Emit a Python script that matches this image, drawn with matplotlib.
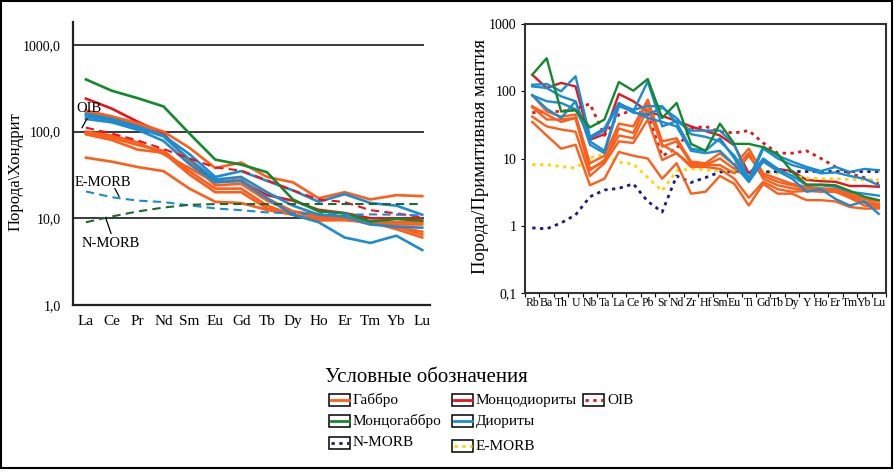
import numpy as np
import matplotlib
matplotlib.use('Agg')
import matplotlib.pyplot as plt
from matplotlib.patches import Rectangle
from matplotlib.lines import Line2D

plt.rcParams['font.family'] = ['Liberation Serif', 'DejaVu Serif']

# ---- left: REE, chondrite normalized ----
ree = ['La', 'Ce', 'Pr', 'Nd', 'Sm', 'Eu', 'Gd', 'Tb', 'Dy', 'Ho', 'Er', 'Tm', 'Yb', 'Lu']

gabbro_ree = [
    [175, 150, 125, 100, 65, 38, 44, 30, 26, 17, 20, 16.5, 18.5, 18],
    [170, 145, 120, 90, 45, 24, 25, 16, 12, 10.5, 10.5, 9, 8, 6.5],
    [97, 85, 70, 60, 35, 22, 22, 14, 11, 10, 10, 9, 7.5, 6],
    [93, 80, 62, 57, 32, 20, 20, 13, 11, 9.5, 9.7, 9, 9, 9],
    [50, 45, 39, 35, 22, 15.5, 15, 12.5, 11, 9.5, 9.5, 9, 8, 7],
    [100, 90, 75, 55, 38, 26, 28, 17, 12, 11, 10, 8.5, 8.5, 8.5],
]
diorite_ree = [
    [160, 140, 115, 90, 55, 30, 35, 27, 21, 15.5, 19, 15, 14, 11],
    [140, 128, 105, 78, 42, 26, 27, 17, 11, 9, 6, 5.2, 6.3, 4.3],
    [150, 135, 110, 88, 48, 28, 30, 20, 14, 11, 10.5, 8.5, 8, 7.8],
]
monzodiorite_ree = [240, 184, 130, 95, 45, 27, 27, 18.5, 16, 12.5, 11.5, 10, 10, 10]
monzogabbro_ree = [400, 296, 243, 195, 95, 47.5, 41.6, 34, 16.5, 12, 11.4, 9.2, 9.8, 9.4]
oib_ree = [111, 95, 79, 63, 49, 38.6, 35.5, 27.5, 21, 16.5, 15.4, 12.4, 11.4, 10.3]
emorb_ree = [20.4, 17.5, 16, 15.4, 14.1, 13, 12.4, 11.7, 11.4, 11.2, 11, 11.1, 11, 10.8]
nmorb_ree = [9, 10.5, 12, 13.3, 14.3, 14.6, 14.6, 14.6, 14.6, 14.6, 14.6, 14.6, 14.6, 14.6]

# ---- right: spider diagram, primitive mantle normalized ----
spider = ['Rb', 'Ba', 'Th', 'U', 'Nb', 'Ta', 'La', 'Ce', 'Pb', 'Sr', 'Nd', 'Zr', 'Hf',
          'Sm', 'Eu', 'Ti', 'Gd', 'Tb', 'Dy', 'Y', 'Ho', 'Er', 'Tm', 'Yb', 'Lu']

gabbro_pm = [
    [88, 50, 42, 45, 8.5, 11, 33, 30, 75, 18, 20, 9, 8.5, 12, 8, 14, 6, 5, 4.2, 3.8, 3.6, 3.5, 3, 2.5, 2.3],
    [58, 38, 38, 40, 6.7, 9.5, 22, 20, 55, 16, 12, 8, 8, 8, 6, 11, 5.5, 4.5, 4, 3.6, 3.4, 3.3, 2.8, 2.3, 2.1],
    [42, 30, 27, 25, 5.5, 8.5, 18, 17, 38, 9.5, 12, 7.5, 7.5, 7, 5, 2.6, 4.5, 3.5, 3.2, 3.3, 3.2, 3.2, 2.6, 2.0, 1.9],
    [35, 22, 14, 16, 4, 5, 12.5, 11, 10, 5, 8.5, 3, 3.2, 5.5, 4.2, 2, 4.2, 3, 3, 2.4, 2.4, 2.3, 1.9, 1.8, 1.8],
    [60, 45, 35, 40, 7, 9, 28, 24, 70, 15, 18, 8.5, 8, 10, 7, 12, 5, 4, 3.6, 3.4, 3.3, 3.2, 2.7, 2.2, 2.0],
]
diorite_pm = [
    [125, 128, 100, 167, 21, 28, 67, 50, 140, 30, 36, 26, 26, 26, 16, 5, 15, 11, 9, 7.5, 6.5, 7.5, 6.3, 7, 6.7],
    [118, 112, 84, 71, 18, 13, 65, 53, 60, 60, 34, 14, 13, 20, 10, 4.5, 14, 10, 8, 7, 6, 6.2, 5.5, 5, 4],
    [87, 71, 67, 54, 20, 26, 64, 48, 45, 57, 40, 23, 21, 18, 11, 5, 10, 7, 5.5, 4, 4, 3.8, 3.2, 3, 2.8],
    [87, 55, 40, 71, 16, 12, 60, 50, 40, 35, 30, 13, 12, 13, 8, 4.5, 9, 6.5, 5, 3.2, 3.5, 2.5, 2, 2.3, 1.5],
]
monzodiorite_pm = [176, 112, 133, 118, 19, 23, 91, 71, 50, 43, 36, 30, 25.6, 22, 15.6, 6, 9.5, 7, 6.5,
                   4.8, 4.6, 4.5, 3.9, 3.9, 3.8]
monzogabbro_pm = [176, 310, 50, 52, 29, 38, 137, 102, 152, 40, 67, 16.5, 13, 33, 16.5, 16.5, 14.7, 11.7,
                  6.3, 4.1, 4.1, 4.0, 3.3, 2.7, 2.4]
oib_pm = [48, 50, 50, 55, 65, 22, 45, 52, 45, 11, 14, 28, 30, 25, 24, 26, 17, 12, 12, 13, 10, 7.5, 6, 5.2, 4.2]
emorb_pm = [8.1, 8.1, 7.6, 7.2, 10.3, 11.6, 8.8, 8.3, 5.2, 3.3, 6.6, 7, 6.8, 6.5, 6.5, 5.6, 6.5, 6, 5.6,
            5.1, 5, 5, 4.9, 4.8, 4.8]
nmorb_pm = [0.93, 0.9, 1.1, 1.45, 2.7, 3.4, 3.6, 4.2, 2.3, 1.6, 5.5, 4.4, 5.2, 6.3, 6.5, 6.3, 6.3, 6.4,
            6.4, 6.4, 6.4, 6.4, 6.4, 6.4, 6.4]

c_orange = '#ff5e1a'
c_red = '#e8141c'
c_green = '#138a2a'
c_blue = '#1a8cd2'
c_navy = '#1d1a80'
c_yellow = '#ffd500'
c_dkgreen = '#1d6a30'

fig = plt.figure(figsize=(8.94, 4.73), dpi=100)

# ---------------- left panel ----------------
ax1 = fig.add_axes([73 / 894, 1 - 305 / 473, 357 / 894, 283 / 473])
xr = np.arange(len(ree))
ax1.set_yscale('log')
ax1.set_ylim(1, 1837)
ax1.set_xlim(-0.5, 13.3)
ax1.hlines([10, 100, 1000], -0.5, 13.05, color='#3a3a3a', lw=1.4, zorder=1)

for s in gabbro_ree:
    ax1.plot(xr, s, color=c_orange, lw=1.9, zorder=3)
for s in diorite_ree:
    ax1.plot(xr, s, color=c_blue, lw=1.9, zorder=3)
ax1.plot(xr, monzodiorite_ree, color=c_red, lw=1.9, zorder=2)
ax1.plot(xr, monzogabbro_ree, color=c_green, lw=1.9, zorder=4)
ax1.plot(xr, oib_ree, color=c_red, lw=1.5, ls=(0, (4, 2.5)), zorder=4)
ax1.plot(xr, emorb_ree, color=c_blue, lw=1.5, ls=(0, (4, 2.5)), zorder=4)
ax1.plot(xr, nmorb_ree, color=c_dkgreen, lw=1.5, ls=(0, (4, 2.5)), zorder=4)

ax1.text(0.12, 184, 'OIB', fontsize=10.5, ha='center', va='center', zorder=5)
ax1.plot([-0.15, 0.04], [111, 141], color='black', lw=0.9, zorder=5)
ax1.text(0.66, 26, 'E-MORB', fontsize=10.5, ha='center', va='center', zorder=5)
ax1.plot([1.12, 1.28], [22, 17.9], color='black', lw=0.9, zorder=5)
ax1.text(0.97, 5.16, 'N-MORB', fontsize=10.5, ha='center', va='center', zorder=5)
ax1.plot([0.77, 0.97], [10, 6.7], color='black', lw=0.9, zorder=5)

ax1.set_yticks([1, 10, 100, 1000])
ax1.set_yticklabels(['1,0', '10,0', '100,0', '1000,0'])
ax1.minorticks_off()
ax1.set_xticks(xr)
ax1.set_xticklabels(ree)
ax1.tick_params(axis='both', length=0, labelsize=11)
ax1.tick_params(axis='y', pad=9, labelsize=10)
ax1.tick_params(axis='x', pad=7)
for sp in ['top', 'right']:
    ax1.spines[sp].set_visible(False)
for sp in ['left', 'bottom']:
    ax1.spines[sp].set_linewidth(1.6)
    ax1.spines[sp].set_color('#222222')
ax1.set_ylabel('Порода\\Хондрит', fontsize=12)
ax1.yaxis.set_label_coords(-0.14, 0.47)

# ---------------- right panel ----------------
ax2 = fig.add_axes([525 / 894, 1 - 293 / 473, 361 / 894, 269 / 473])
xs = np.arange(len(spider))
ax2.set_yscale('log')
ax2.set_ylim(0.1, 1000)
ax2.set_xlim(-0.5, 24.5)

for s in gabbro_pm:
    ax2.plot(xs, s, color=c_orange, lw=1.7, zorder=3)
for s in diorite_pm:
    ax2.plot(xs, s, color=c_blue, lw=1.7, zorder=3)
ax2.plot(xs, monzodiorite_pm, color=c_red, lw=1.7, zorder=2)
ax2.plot(xs, monzogabbro_pm, color=c_green, lw=1.7, zorder=4)
ax2.plot(xs, oib_pm, color=c_red, lw=2.0, ls=(0, (1.2, 1.6)), zorder=2)
ax2.plot(xs, emorb_pm, color=c_yellow, lw=2.0, ls=(0, (1.2, 1.6)), zorder=2)
ax2.plot(xs, nmorb_pm, color=c_navy, lw=2.0, ls=(0, (1.2, 1.6)), zorder=2)

ax2.set_yticks([0.1, 1, 10, 100, 1000])
ax2.set_yticklabels(['0,1', '1', '10', '100', '1000'])
ax2.minorticks_off()
ax2.set_xticks(xs)
ax2.set_xticklabels(spider)
ax2.set_xticks(np.arange(-0.5, 24.6, 1), minor=True)
ax2.tick_params(axis='x', which='major', length=0, labelsize=8.5, pad=3)
ax2.tick_params(axis='x', which='minor', length=3, direction='out', width=0.8)
ax2.tick_params(axis='y', length=3, direction='out', labelsize=10, pad=3)
for sp in ax2.spines.values():
    sp.set_linewidth(1.5)
    sp.set_color('#333333')
ax2.set_ylabel('Порода/Примитивная мантия', fontsize=13.5)
ax2.yaxis.set_label_coords(-0.1, 0.506)

# ---------------- legend ----------------
fig.text(325 / 894, 1 - 377 / 473, 'Условные обозначения', fontsize=15, ha='left', va='center')


def legend_item(x, y, color, ls, label):
    # small boxed swatch like the original figure
    w, h = 21, 12
    fig.add_artist(Rectangle(((x) / 894, 1 - (y + h / 2) / 473), w / 894, h / 473,
                             transform=fig.transFigure, fill=False, edgecolor='black', lw=1.1))
    fig.add_artist(Line2D([(x + 1.5) / 894, (x + w - 1.5) / 894], [1 - y / 473, 1 - y / 473],
                          transform=fig.transFigure, color=color, lw=2, ls=ls))
    fig.text((x + w + 3) / 894, 1 - y / 473, label, fontsize=11, ha='left', va='center')


dot = (0, (1.2, 1.6))
legend_item(329, 400, c_orange, '-', 'Габбро')
legend_item(329, 421, c_green, '-', 'Монцогаббро')
legend_item(329, 443, c_navy, dot, 'N-MORB')
legend_item(452, 400, c_red, '-', 'Монцодиориты')
legend_item(452, 421, c_blue, '-', 'Диориты')
legend_item(452, 446, c_yellow, dot, 'E-MORB')
legend_item(583, 400, c_red, dot, 'OIB')

# outer frame
fig.add_artist(Rectangle((0.001, 1 - 468 / 473), 0.997, 467 / 473, transform=fig.transFigure,
                         fill=False, edgecolor='black', lw=1.5))

fig.savefig('out.png', dpi=100)
